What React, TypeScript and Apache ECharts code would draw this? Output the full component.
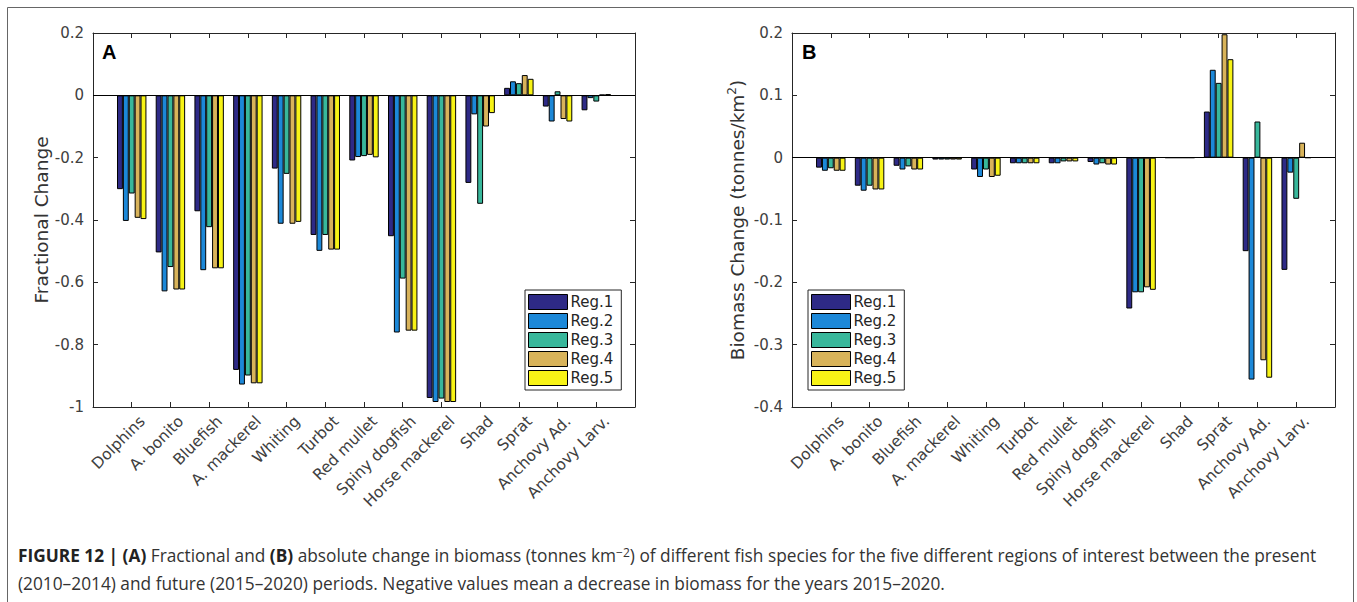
import React, { useEffect, useRef } from "react";
import * as echarts from "echarts";

const categories = [
  "Dolphins", "A. bonito", "Bluefish", "A. mackerel", "Whiting", "Turbot", "Red mullet",
  "Spiny dogfish", "Horse mackerel", "Shad", "Sprat", "Anchovy Ad.", "Anchovy Larv.",
];
const regionNames = ["Reg.1", "Reg.2", "Reg.3", "Reg.4", "Reg.5"];
const regionColors = ["#2e2a86", "#1c88d8", "#38b79b", "#d8b35a", "#f7f316"];

// Panel A: fractional change
const fracReg1 = [-0.301, -0.504, -0.372, -0.881, -0.235, -0.448, -0.209, -0.452, -0.971, -0.281, 0.024, -0.036, -0.048];
const fracReg2 = [-0.403, -0.629, -0.561, -0.928, -0.412, -0.499, -0.198, -0.761, -0.984, -0.061, 0.045, -0.084, -0.009];
const fracReg3 = [-0.315, -0.551, -0.423, -0.899, -0.252, -0.448, -0.195, -0.588, -0.973, -0.348, 0.039, 0.013, -0.02];
const fracReg4 = [-0.393, -0.623, -0.555, -0.924, -0.412, -0.495, -0.191, -0.755, -0.984, -0.1, 0.065, -0.076, 0.002];
const fracReg5 = [-0.397, -0.623, -0.555, -0.924, -0.406, -0.495, -0.199, -0.755, -0.984, -0.057, 0.053, -0.084, 0.004];

// Panel B: biomass change (tonnes/km2)
const bioReg1 = [-0.016, -0.045, -0.013, -0.003, -0.019, -0.009, -0.009, -0.007, -0.242, 0, 0.074, -0.15, -0.18];
const bioReg2 = [-0.021, -0.053, -0.019, -0.003, -0.031, -0.009, -0.009, -0.011, -0.216, 0, 0.141, -0.356, -0.024];
const bioReg3 = [-0.017, -0.045, -0.014, -0.003, -0.019, -0.009, -0.006, -0.009, -0.216, 0, 0.12, 0.058, -0.066];
const bioReg4 = [-0.021, -0.051, -0.019, -0.003, -0.031, -0.009, -0.006, -0.011, -0.208, 0, 0.198, -0.325, 0.024];
const bioReg5 = [-0.021, -0.051, -0.019, -0.003, -0.029, -0.009, -0.006, -0.011, -0.212, 0, 0.158, -0.353, 0];

const fracTicks = { min: -1, max: 0.2, interval: 0.2 };
const bioTicks = { min: -0.4, max: 0.2, interval: 0.1 };

const captionLine1 =
  "{b|FIGURE 12 | (A)} Fractional and {b|(B)} absolute change in biomass (tonnes km{s|\u22122}) of different fish species for the five different regions of interest between the present";
const captionLine2 =
  "(2010\u20132014) and future (2015\u20132020) periods. Negative values mean a decrease in biomass for the years 2015\u20132020.";

const FONT = "'DejaVu Sans', sans-serif";
const CAP_FONT = "'Open Sans', 'Liberation Sans', Arial, sans-serif";
const AXIS_COLOR = "#262626";
const LABEL_COLOR = "#404040";

export default function App() {
  const ref = useRef<HTMLDivElement>(null);

  useEffect(() => {
    document.body.style.margin = "0";
    const chart = echarts.init(ref.current!, null, { renderer: "svg" });
    const padded = [" ", ...categories, "  "];
    const showIdx = (i: number) => i > 0 && i < padded.length - 1;

    const grids = [
      { left: 93, top: 33, width: 542, height: 374, outerBoundsMode: "none" },
      { left: 792, top: 33, width: 543, height: 374, outerBoundsMode: "none" },
    ];

    const xAxes: any[] = [];
    const yAxes: any[] = [];
    [0, 1].forEach((g) => {
      xAxes.push({
        type: "category",
        gridIndex: g,
        data: padded,
        boundaryGap: false,
        position: "bottom",
        axisLine: { onZero: false, lineStyle: { color: AXIS_COLOR, width: 1 } },
        axisTick: { inside: true, length: 5, interval: (i: number) => showIdx(i), lineStyle: { color: AXIS_COLOR } },
        axisLabel: {
          interval: (i: number) => showIdx(i),
          rotate: 45,
          margin: 11,
          fontSize: 15.5,
          fontFamily: FONT,
          color: LABEL_COLOR,
          verticalAlign: "top",
          align: "right",
          padding: [0, -7, 0, 0],
        },
        splitLine: { show: false },
      });
      xAxes.push({
        type: "category",
        gridIndex: g,
        data: padded,
        boundaryGap: false,
        position: "top",
        axisLine: { onZero: false, lineStyle: { color: AXIS_COLOR, width: 1 } },
        axisTick: { inside: true, length: 5, interval: (i: number) => showIdx(i), lineStyle: { color: AXIS_COLOR } },
        axisLabel: { show: false },
        splitLine: { show: false },
      });
      const t = g === 0 ? fracTicks : bioTicks;
      yAxes.push({
        type: "value",
        gridIndex: g,
        min: t.min,
        max: t.max,
        interval: t.interval,
        position: "left",
        name:
          g === 0
            ? "Fractional Change"
            : "{a|Biomass Change (tonnes/km}{s|2}{a|)}",
        nameLocation: "middle",
        nameGap: g === 0 ? 37 : 44,
        nameTextStyle: {
          fontSize: 18.5,
          fontFamily: FONT,
          color: "#333",
          rich: {
            a: { fontSize: 18.5, fontFamily: FONT, color: "#333", lineHeight: 22 },
            s: { fontSize: 12, fontFamily: FONT, color: "#333", verticalAlign: "top", lineHeight: 12 },
          },
        },
        axisLine: { show: true, lineStyle: { color: AXIS_COLOR, width: 1 } },
        axisTick: { show: true, inside: true, length: 5, lineStyle: { color: AXIS_COLOR } },
        axisLabel: { fontSize: 15, fontFamily: FONT, color: LABEL_COLOR, margin: 9 },
        splitLine: { show: false },
      });
      yAxes.push({
        type: "value",
        gridIndex: g,
        min: t.min,
        max: t.max,
        interval: t.interval,
        position: "right",
        axisLine: { show: true, lineStyle: { color: AXIS_COLOR, width: 1 } },
        axisTick: { show: true, inside: true, length: 5, lineStyle: { color: AXIS_COLOR } },
        axisLabel: { show: false },
        splitLine: { show: false },
      });
    });

    const fracData = [fracReg1, fracReg2, fracReg3, fracReg4, fracReg5];
    const bioData = [bioReg1, bioReg2, bioReg3, bioReg4, bioReg5];
    const series: any[] = [];
    [fracData, bioData].forEach((panel, g) => {
      panel.forEach((vals, r) => {
        const s: any = {
          type: "bar",
          name: regionNames[r],
          xAxisIndex: g * 2,
          yAxisIndex: g * 2,
          data: [null, ...vals, null],
          barWidth: "15.2%",
          barGap: "0%",
          itemStyle: { color: regionColors[r], borderColor: "#000", borderWidth: 1 },
          emphasis: { disabled: true },
        };
        if (r === 4) {
          s.markLine = {
            silent: true,
            symbol: "none",
            label: { show: false },
            lineStyle: { color: "#000", width: 1, type: "solid" },
            data: [{ yAxis: 0 }],
          };
        }
        series.push(s);
      });
    });

    const legendBase = {
      orient: "vertical",
      data: regionNames,
      icon: "rect",
      itemWidth: 39,
      itemHeight: 15,
      itemGap: 3,
      padding: [4, 8, 4, 3],
      backgroundColor: "#fff",
      borderColor: AXIS_COLOR,
      borderWidth: 1,
      borderRadius: 0,
      selectedMode: false,
      itemStyle: { borderColor: "#000", borderWidth: 1 },
      textStyle: { fontSize: 15, fontFamily: FONT, color: "#262626", padding: [0, 0, 0, -2] },
    };

    chart.setOption({
      animation: false,
      textStyle: { fontFamily: FONT },
      grid: grids,
      xAxis: xAxes,
      yAxis: yAxes,
      legend: [
        { ...legendBase, left: 525, top: 290 },
        { ...legendBase, left: 808, top: 290 },
      ],
      series,
      graphic: [
        {
          type: "polyline",
          shape: { points: [[7.5, 602], [7.5, 7.5], [1353.5, 7.5], [1353.5, 602]] },
          style: { stroke: "#666", lineWidth: 1, fill: "none" },
          silent: true,
        },
        {
          type: "text",
          x: 102,
          y: 52,
          style: { text: "A", fontSize: 20, fontWeight: "bold", fontFamily: "'Liberation Sans', Arial", fill: "#000", verticalAlign: "middle", align: "left" },
        },
        {
          type: "text",
          x: 802,
          y: 52,
          style: { text: "B", fontSize: 20, fontWeight: "bold", fontFamily: "'Liberation Sans', Arial", fill: "#000", verticalAlign: "middle", align: "left" },
        },
        {
          type: "text",
          x: 18,
          y: 555,
          style: {
            text: captionLine1,
            fontSize: 17.3,
            fontFamily: CAP_FONT,
            fill: "#333",
            verticalAlign: "middle",
            align: "left",
            rich: {
              b: { fontSize: 17.3, fontWeight: "bold", fontFamily: CAP_FONT, fill: "#222" },
              s: { fontSize: 12, fontFamily: CAP_FONT, fill: "#333", verticalAlign: "top" },
            },
          },
        },
        {
          type: "text",
          x: 18,
          y: 583,
          style: {
            text: captionLine2,
            fontSize: 17.3,
            fontFamily: CAP_FONT,
            fill: "#333",
            verticalAlign: "middle",
            align: "left",
          },
        },
      ],
    });
    return () => chart.dispose();
  }, []);

  return <div ref={ref} style={{ width: 1357, height: 602 }} />;
}
